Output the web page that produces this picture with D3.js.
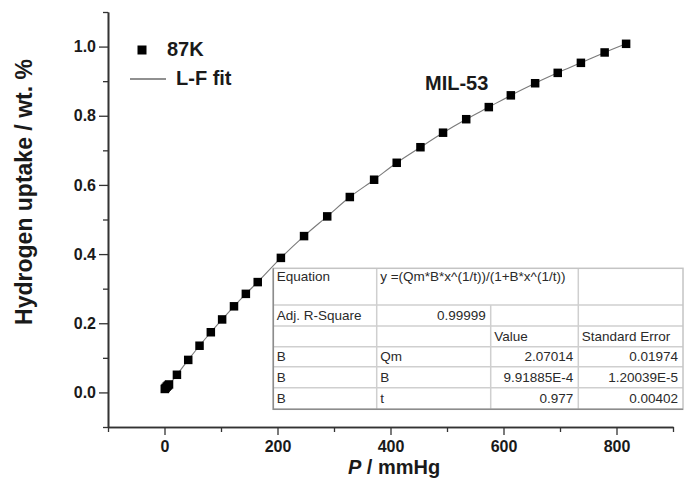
<!DOCTYPE html>
<meta charset="utf-8">
<script src="https://d3js.org/d3.v7.min.js"></script>
<style>
  body { margin: 0; background: #fff; }
  text { font-family: "Liberation Sans", Arial, sans-serif; }
</style>
<div id="my_dataviz"></div>
<script>

// data: 87K isotherm of MIL-53
var pressure = [0.5, 2, 4, 6, 8, 22, 42, 62, 82, 102, 123, 144, 165, 206, 247, 288, 328,
                371, 411, 453, 493, 534, 574, 613, 656, 696, 737, 779, 817];
var uptake   = [0.010, 0.013, 0.017, 0.020, 0.023, 0.051, 0.094, 0.135, 0.174, 0.211, 0.249,
                0.285, 0.319, 0.389, 0.452, 0.509, 0.565, 0.615, 0.664, 0.709, 0.751, 0.790,
                0.825, 0.859, 0.894, 0.924, 0.953, 0.983, 1.008];

// axis ticks
var xMajor = [0, 200, 400, 600, 800];
var xMinor = [-100, 100, 300, 500, 700, 900];
var yMajor = [0, 0.2, 0.4, 0.6, 0.8, 1.0];
var yMinor = [-0.1, 0.1, 0.3, 0.5, 0.7, 0.9, 1.1];

// fit result table
var equation = "y =(Qm*B*x^(1/t))/(1+B*x^(1/t))";
var adjR2 = "0.99999";
var paramNames  = ["Qm", "B", "t"];
var paramValues = ["2.07014", "9.91885E-4", "0.977"];
var paramErrors = ["0.01974", "1.20039E-5", "0.00402"];

var margin = {top: 12, right: 13, bottom: 54, left: 108},
    W = 686, H = 481,
    width = W - margin.left - margin.right,
    height = H - margin.top - margin.bottom;

var svg = d3.select("#my_dataviz")
  .append("svg")
    .attr("width", W)
    .attr("height", H)
  .append("g")
    .attr("transform", "translate(" + margin.left + "," + margin.top + ")");

var x = d3.scaleLinear().domain([-100, 900]).range([0, width]);
var y = d3.scaleLinear().domain([-0.1, 1.1]).range([height, 0]);

var axisColor = "#333";

// x axis: minor then major
var gxMin = svg.append("g")
  .attr("transform", "translate(0," + height + ")")
  .call(d3.axisBottom(x).tickValues(xMinor).tickSize(5).tickSizeOuter(0).tickFormat(""));
var gx = svg.append("g")
  .attr("transform", "translate(0," + height + ")")
  .call(d3.axisBottom(x).tickValues(xMajor).tickSize(8).tickSizeOuter(0).tickPadding(6)
        .tickFormat(d3.format("d")));

// y axis
var gyMin = svg.append("g")
  .call(d3.axisLeft(y).tickValues(yMinor).tickSize(5).tickSizeOuter(0).tickFormat(""));
var gy = svg.append("g")
  .call(d3.axisLeft(y).tickValues(yMajor).tickSize(9).tickSizeOuter(0).tickPadding(3)
        .tickFormat(d3.format(".1f")));

[gxMin, gx, gyMin, gy].forEach(function(g) {
  g.select(".domain").attr("stroke", axisColor).attr("stroke-width", 1.6);
  g.selectAll(".tick line").attr("stroke", axisColor).attr("stroke-width", 1.3);
  g.selectAll(".tick text")
    .attr("fill", "#1a1a1a")
    .style("font-size", "16px")
    .style("font-weight", "bold")
    .style("font-family", "'Liberation Sans', Arial, sans-serif");
});

// axis titles
svg.append("text")
  .attr("transform", "translate(" + (32 - margin.left) + "," + (192 - margin.top) + ") rotate(-90)")
  .attr("text-anchor", "middle")
  .style("font-size", "23px")
  .style("font-weight", "bold")
  .attr("fill", "#1a1a1a")
  .text("Hydrogen uptake / wt. %");

var xt = svg.append("text")
  .attr("x", 394 - margin.left)
  .attr("y", 474 - margin.top)
  .attr("text-anchor", "middle")
  .style("font-size", "20px")
  .style("font-weight", "bold")
  .attr("fill", "#1a1a1a");
xt.append("tspan").style("font-style", "italic").text("P");
xt.append("tspan").text(" / mmHg");

// fit line through the points
var pts = pressure.map(function(p, i) { return [p, uptake[i]]; });
svg.append("path")
  .datum(pts)
  .attr("fill", "none")
  .attr("stroke", "#7a7a7a")
  .attr("stroke-width", 1.1)
  .attr("d", d3.line()
    .x(function(d) { return x(d[0]); })
    .y(function(d) { return y(d[1]); })
    .curve(d3.curveMonotoneX));

// markers
var sq = 8.5;
svg.selectAll(".pt")
  .data(pts)
  .enter()
  .append("rect")
    .attr("class", "pt")
    .attr("x", function(d) { return x(d[0]) - sq / 2; })
    .attr("y", function(d) { return y(d[1]) - sq / 2; })
    .attr("width", sq)
    .attr("height", sq)
    .attr("fill", "#000");

// legend
var leg = svg.append("g").attr("transform", "translate(" + (-margin.left) + "," + (-margin.top) + ")");
leg.append("rect").attr("x", 137.5).attr("y", 45.5).attr("width", 9).attr("height", 9).attr("fill", "#000");
leg.append("text").attr("x", 167).attr("y", 56)
  .style("font-size", "20px").style("font-weight", "bold").attr("fill", "#1a1a1a").text("87K");
leg.append("line").attr("x1", 130).attr("x2", 166).attr("y1", 79).attr("y2", 79)
  .attr("stroke", "#222").attr("stroke-width", 1.2);
leg.append("text").attr("x", 176).attr("y", 85)
  .style("font-size", "20px").style("font-weight", "bold").attr("fill", "#1a1a1a").text("L-F fit");
leg.append("text").attr("x", 425).attr("y", 90)
  .style("font-size", "20px").style("font-weight", "bold").attr("fill", "#1a1a1a").text("MIL-53");

// fit table
var tbl = svg.append("g").attr("transform", "translate(" + (-margin.left) + "," + (-margin.top) + ")");
var cx = [273.3, 376.7, 490.7, 578.3, 683];
var ry = [268.3, 305, 326, 346.7, 366.7, 387.7, 409.3];
var inner = "#cfcfcf";

tbl.append("rect")
  .attr("x", cx[0]).attr("y", ry[0])
  .attr("width", cx[4] - cx[0]).attr("height", ry[6] - ry[0])
  .attr("fill", "#fff");

ry.slice(1, 6).forEach(function(v) {
  tbl.append("line").attr("x1", cx[0]).attr("x2", cx[4]).attr("y1", v).attr("y2", v)
    .attr("stroke", inner).attr("stroke-width", 1.5);
});
tbl.append("line").attr("x1", cx[1]).attr("x2", cx[1]).attr("y1", ry[0]).attr("y2", ry[6])
  .attr("stroke", inner).attr("stroke-width", 1.5);
tbl.append("line").attr("x1", cx[2]).attr("x2", cx[2]).attr("y1", ry[1]).attr("y2", ry[6])
  .attr("stroke", inner).attr("stroke-width", 1.5);
tbl.append("line").attr("x1", cx[3]).attr("x2", cx[3]).attr("y1", ry[0]).attr("y2", ry[6])
  .attr("stroke", inner).attr("stroke-width", 1.5);

tbl.append("rect")
  .attr("x", cx[0]).attr("y", ry[0])
  .attr("width", cx[4] - cx[0]).attr("height", ry[6] - ry[0])
  .attr("fill", "none").attr("stroke", "#c4c4c4").attr("stroke-width", 1.5);
// darker left / bottom edge
tbl.append("path")
  .attr("d", "M" + cx[0] + "," + ry[0] + "V" + ry[6] + "H" + cx[4])
  .attr("fill", "none").attr("stroke", "#8c8c8c").attr("stroke-width", 1.5);

function cell(txt, col, row, right) {
  tbl.append("text")
    .attr("x", right ? cx[col + 1] - 5 : cx[col] + 3.5)
    .attr("y", row === 0 ? ry[0] + 12.5 : ry[row + 1] - 6)
    .attr("text-anchor", right ? "end" : "start")
    .style("font-size", "13.5px")
    .attr("fill", "#2a2a2a")
    .text(txt);
}

cell("Equation", 0, 0);
cell(equation, 1, 0);
cell("Adj. R-Square", 0, 1);
cell(adjR2, 1, 1, true);
cell("Value", 2, 2);
cell("Standard Error", 3, 2);
paramNames.forEach(function(n, i) {
  cell("B", 0, 3 + i);
  cell(n, 1, 3 + i);
  cell(paramValues[i], 2, 3 + i, true);
  cell(paramErrors[i], 3, 3 + i, true);
});

</script>
